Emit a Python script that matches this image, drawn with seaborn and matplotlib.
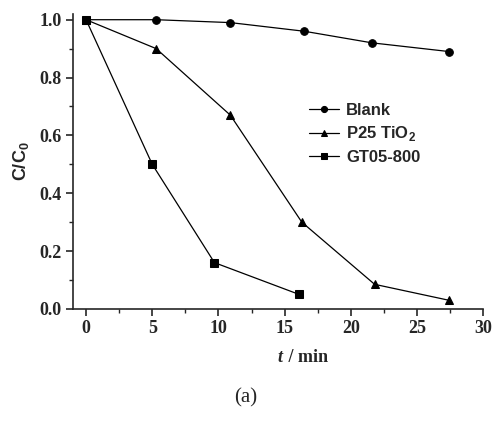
import matplotlib
matplotlib.use('Agg')
import matplotlib.pyplot as plt
import seaborn as sns
import pandas as pd
from matplotlib.ticker import MultipleLocator

# values
blank_t = [0, 5.3, 10.9, 16.5, 21.6, 27.4]
blank_c = [1.0, 1.0, 0.99, 0.96, 0.92, 0.89]
p25_t = [0, 5.3, 10.9, 16.3, 21.8, 27.4]
p25_c = [1.0, 0.90, 0.67, 0.30, 0.085, 0.03]
gt_t = [0, 5.0, 9.7, 16.1]
gt_c = [1.0, 0.50, 0.16, 0.05]
labels = ['Blank', 'P25 TiO$_\\mathbf{2}$', 'GT05-800']

df = pd.concat([
    pd.DataFrame({'t': blank_t, 'c': blank_c, 'sample': labels[0]}),
    pd.DataFrame({'t': p25_t, 'c': p25_c, 'sample': labels[1]}),
    pd.DataFrame({'t': gt_t, 'c': gt_c, 'sample': labels[2]}),
], ignore_index=True)

sns.set_style('ticks')
plt.rcParams['mathtext.fontset'] = 'custom'
plt.rcParams['mathtext.bf'] = 'Liberation Sans:bold'
plt.rcParams['mathtext.rm'] = 'Liberation Sans'
fig = plt.figure(figsize=(4.92, 4.22), dpi=100)
ax = fig.add_axes([0.148, 0.268, 0.834, 0.699])

sns.lineplot(data=df, x='t', y='c', hue='sample', style='sample',
             palette=['black'] * 3, markers=['o', '^', 's'], dashes=False,
             markersize=5.5, linewidth=0.9, markeredgecolor='black',
             sort=False, ax=ax)

ax.set_xlim(-1, 30)
ax.set_ylim(0, 1.02)
ax.xaxis.set_major_locator(MultipleLocator(5))
ax.xaxis.set_minor_locator(MultipleLocator(2.5))
ax.yaxis.set_minor_locator(MultipleLocator(0.1))
ax.set_yticks([0, 0.2, 0.4, 0.6, 0.8, 1.0])
ax.set_yticklabels(['0.0', '0.2', '0.4', '0.6', '0.8', '1.0'])
for s in ['top', 'right']:
    ax.spines[s].set_visible(False)
for s in ['left', 'bottom']:
    ax.spines[s].set_linewidth(1.2)
ax.tick_params(which='major', direction='out', length=5, width=1.2, pad=3)
ax.tick_params(which='minor', direction='out', length=3, width=1.0)
for lab in ax.get_xticklabels() + ax.get_yticklabels():
    lab.set_family('Liberation Serif')
    lab.set_fontweight('bold')
    lab.set_fontsize(13)

ax.set_xlabel('')
ax.set_ylabel('C/C$_\\mathbf{0}$', family='Liberation Sans', fontweight='bold',
              fontsize=13, labelpad=6)
fig.text(0.575, 1 - 358 / 422, 't', family='Liberation Serif',
         fontweight='bold', style='italic', fontsize=13, ha='right', va='center')
fig.text(0.577, 1 - 358 / 422, ' / min', family='Liberation Serif',
         fontweight='bold', fontsize=13, ha='left', va='center')
fig.text(0.5, 1 - 398 / 422, '(a)', family='Liberation Serif', fontsize=15,
         ha='center', va='center')

leg = ax.legend(loc='upper left', bbox_to_anchor=(0.54, 0.75), frameon=False,
                handlelength=1.8, handletextpad=0.4, labelspacing=0.4,
                markerscale=0.8,
                prop={'family': 'Liberation Sans', 'weight': 'bold', 'size': 12})

fig.savefig('out.png', dpi=100)
